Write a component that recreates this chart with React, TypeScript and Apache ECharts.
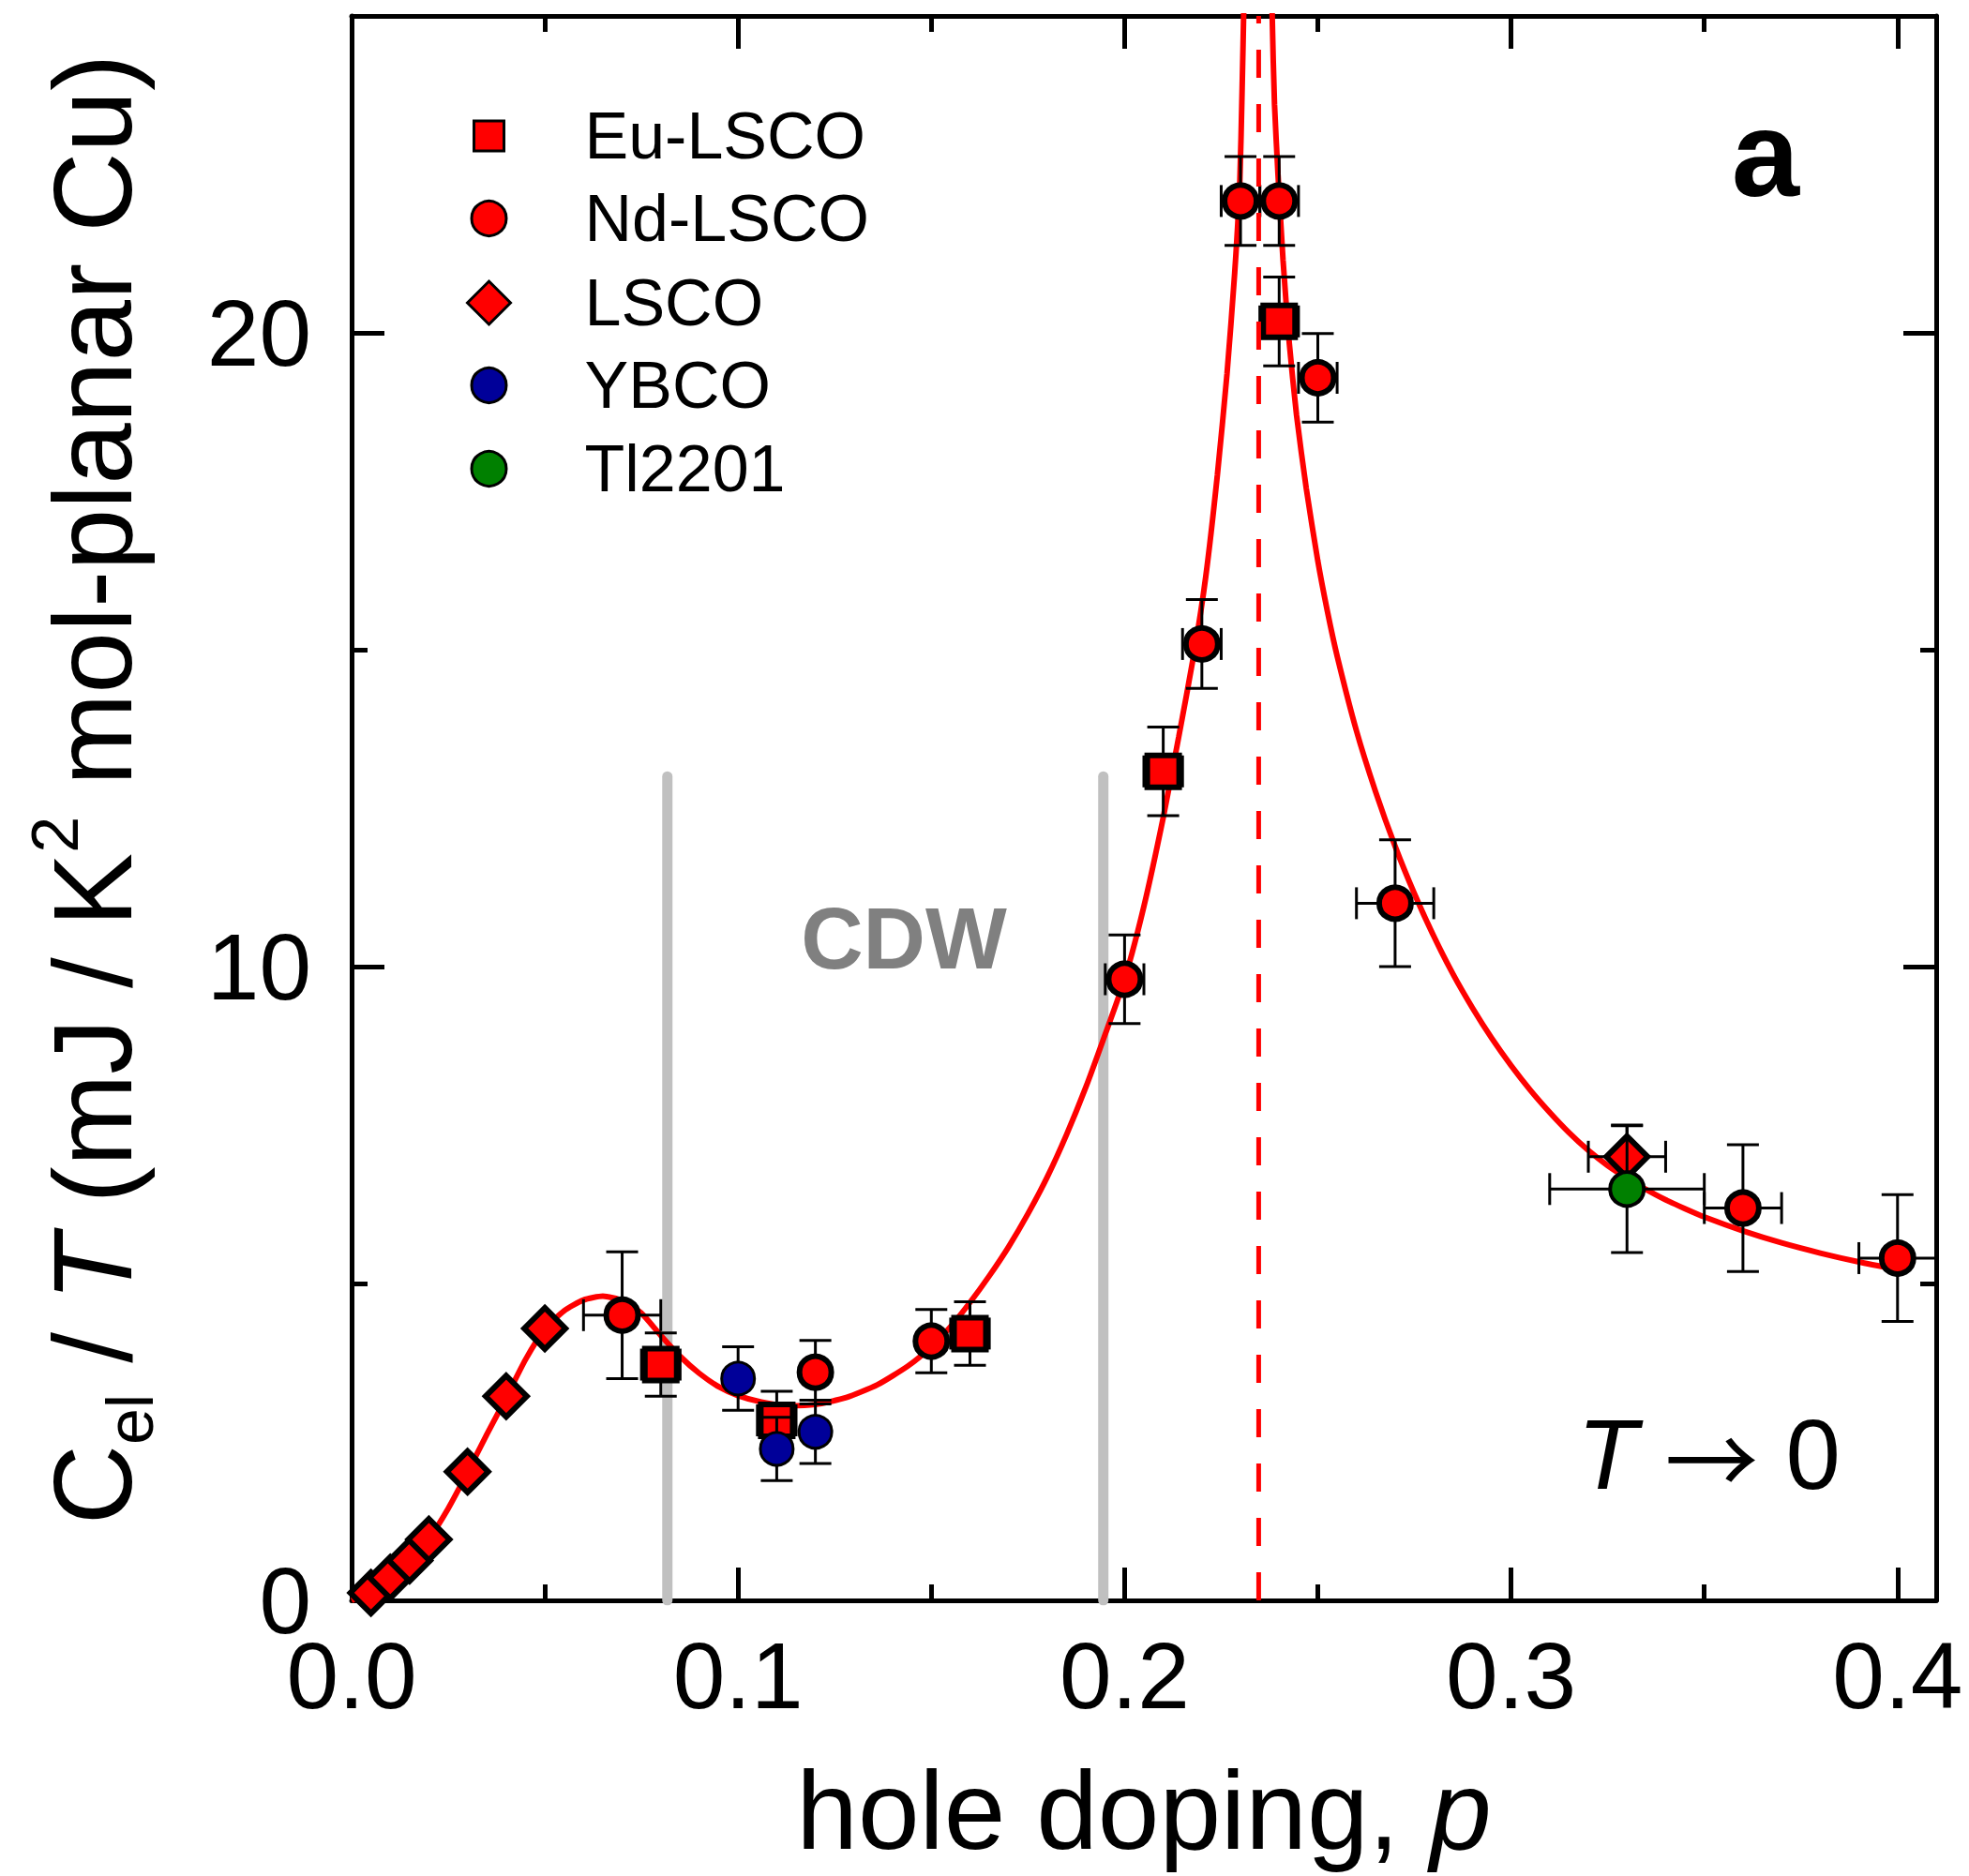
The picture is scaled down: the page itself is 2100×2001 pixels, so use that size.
import React, { useEffect, useRef } from 'react';
import * as echarts from 'echarts';

const FONT = '"Liberation Sans", Arial, Helvetica, sans-serif';

// ---- Data ----
// Eu-LSCO (squares)
const euX = [0.08, 0.11, 0.16, 0.21, 0.24];
const euY = [3.72, 2.84, 4.21, 13.08, 20.18];
const euXErr = [0.005, 0.005, 0.005, 0.005, 0.005];
const euYErr = [0.5, 0.46, 0.5, 0.7, 0.7];

// Nd-LSCO (circles)
const ndX = [0.07, 0.12, 0.15, 0.2, 0.22, 0.23, 0.24, 0.25, 0.27, 0.36, 0.4];
const ndY = [4.5, 3.6, 4.09, 9.8, 15.09, 22.08, 22.08, 19.29, 11.0, 6.19, 5.4];
const ndXErr = [0.01, 0, 0, 0.005, 0.005, 0.005, 0.005, 0.005, 0.01, 0.01, 0.01];
const ndYErr = [1.0, 0.5, 0.5, 0.7, 0.7, 0.7, 0.7, 0.7, 1.0, 1.0, 1.0];

// LSCO (diamonds)
const lscoX = [0.005, 0.01, 0.015, 0.02, 0.03, 0.04, 0.05, 0.33];
const lscoY = [0.12, 0.36, 0.63, 0.96, 2.03, 3.22, 4.29, 7.0];
const lscoXErr = [0, 0, 0, 0, 0, 0, 0, 0.01];
const lscoYErr = [0, 0, 0, 0, 0, 0, 0, 0.5];

// YBCO (blue circles)
const ybcoX = [0.1, 0.11, 0.12];
const ybcoY = [3.5, 2.39, 2.66];
const ybcoXErr = [0, 0, 0];
const ybcoYErr = [0.5, 0.5, 0.5];

// Tl2201 (green circle)
const tlX = [0.33];
const tlY = [6.49];
const tlXErr = [0.02];
const tlYErr = [1.0];

// Fit curve (it runs off the top on both sides of p*)
const curveX = [
  0, 0.005, 0.01, 0.015, 0.02, 0.025, 0.03, 0.035, 0.04, 0.045, 0.05, 0.055, 0.06, 0.065,
  0.07, 0.075, 0.08, 0.085, 0.09, 0.095, 0.1, 0.106, 0.113, 0.12, 0.128, 0.136, 0.144,
  0.15, 0.155, 0.16, 0.165, 0.17, 0.175, 0.18, 0.185, 0.19, 0.1945, 0.2, 0.205, 0.21,
  0.214, 0.218, 0.221, 0.224, 0.2265, 0.2285, 0.2298, 0.2304, 0.2309, 0.2313,
  0.2378, 0.2382, 0.2388, 0.2397, 0.241, 0.2426, 0.2445, 0.247, 0.25, 0.2525, 0.255,
  0.26, 0.265, 0.27, 0.275, 0.28, 0.285, 0.29, 0.295, 0.3, 0.305, 0.31, 0.315, 0.32,
  0.325, 0.33, 0.335, 0.34, 0.345, 0.35, 0.36, 0.37, 0.38, 0.39, 0.4,
];
const curveY = [
  0, 0.14, 0.36, 0.63, 0.97, 1.45, 2.02, 2.62, 3.2, 3.8, 4.28, 4.57, 4.74, 4.8,
  4.73, 4.53, 4.18, 3.85, 3.58, 3.37, 3.23, 3.13, 3.07, 3.09, 3.2, 3.4, 3.7,
  4.0, 4.32, 4.7, 5.12, 5.58, 6.1, 6.68, 7.35, 8.1, 8.85, 9.8, 10.95, 12.35,
  13.62, 14.95, 16.15, 17.75, 19.35, 20.95, 22.35, 23.8, 25.3, 27,
  27, 25.0, 23.6, 22.5, 21.15, 19.85, 18.7, 17.55, 16.4, 15.6, 14.9,
  13.72, 12.75, 11.9, 11.15, 10.48, 9.88, 9.35, 8.87, 8.44, 8.05, 7.7, 7.38, 7.1,
  6.86, 6.66, 6.48, 6.32, 6.18, 6.05, 5.83, 5.64, 5.48, 5.34, 5.22,
];

// Reference lines
const cdwBoundsX = [0.0817, 0.1945];
const cdwTopY = 13;
const criticalP = 0.2347;

// Axes
const xMin = 0;
const xMax = 0.41;
const xMajor = 0.1;
const xMinor = 0.05;
const yMin = 0;
const yMax = 25;
const yMajor = 10;
const yMinor = 5;

const legendNames = ['Eu-LSCO', 'Nd-LSCO', 'LSCO', 'YBCO', 'Tl2201'];

// ---- helpers ----
const zip = (xs: number[], ys: number[]) => xs.map((x, i) => [x, ys[i]]);
const zip4 = (xs: number[], ys: number[], ex: number[], ey: number[]) =>
  xs.map((x, i) => [x, ys[i], ex[i], ey[i]]);

const CAP = 17;
function renderErrorBars(params: any, api: any) {
  const x = api.value(0);
  const y = api.value(1);
  const ex = api.value(2);
  const ey = api.value(3);
  const style = { stroke: '#000', lineWidth: 3, fill: null };
  const children: any[] = [];
  if (ey > 0) {
    const t = api.coord([x, y + ey]);
    const b = api.coord([x, y - ey]);
    children.push({ type: 'line', shape: { x1: t[0], y1: t[1], x2: b[0], y2: b[1] }, style });
    children.push({ type: 'line', shape: { x1: t[0] - CAP, y1: t[1], x2: t[0] + CAP, y2: t[1] }, style });
    children.push({ type: 'line', shape: { x1: b[0] - CAP, y1: b[1], x2: b[0] + CAP, y2: b[1] }, style });
  }
  if (ex > 0) {
    const l = api.coord([x - ex, y]);
    const r = api.coord([x + ex, y]);
    children.push({ type: 'line', shape: { x1: l[0], y1: l[1], x2: r[0], y2: r[1] }, style });
    children.push({ type: 'line', shape: { x1: l[0], y1: l[1] - CAP, x2: l[0], y2: l[1] + CAP }, style });
    children.push({ type: 'line', shape: { x1: r[0], y1: r[1] - CAP, x2: r[0], y2: r[1] + CAP }, style });
  }
  return { type: 'group', children };
}

function errSeries(name: string, data: number[][], z: number) {
  return {
    type: 'custom',
    name: name + ' err',
    data,
    encode: { x: 0, y: 1 },
    renderItem: renderErrorBars,
    clip: true,
    silent: true,
    z,
  };
}

function axis(position: string, min: number, max: number, interval: number, tickLen: number, showLine: boolean, label?: any) {
  return {
    type: 'value',
    position,
    min,
    max,
    interval,
    splitLine: { show: false },
    axisLine: { show: showLine, onZero: false, lineStyle: { color: '#000', width: 5 } },
    axisTick: { show: true, inside: true, length: tickLen, lineStyle: { color: '#000', width: 5 } },
    axisLabel: label || { show: false },
    minorTick: { show: false },
    axisPointer: { show: false },
  };
}

function legendFor(name: string, iconSize: number, rowY: number) {
  return {
    data: [name],
    orient: 'vertical',
    left: 520 - iconSize / 2,
    top: rowY - 40,
    padding: 0,
    itemWidth: iconSize,
    itemHeight: iconSize,
    selectedMode: false,
    itemStyle: { borderWidth: 3, borderColor: '#000' },
    textStyle: {
      fontSize: 70,
      fontFamily: FONT,
      color: '#000',
      lineHeight: 80,
      padding: [0, 0, 0, 97 - iconSize / 2],
    },
  };
}

const option: any = {
  animation: false,
  backgroundColor: '#ffffff',
  textStyle: { fontFamily: FONT },
  grid: { left: 375, top: 17, width: 1690, height: 1690, containLabel: false, outerBoundsMode: 'none' },
  xAxis: [
    axis('bottom', xMin, xMax, xMajor, 35, true, {
      show: true,
      fontSize: 100,
      lineHeight: 76,
      color: '#000',
      fontFamily: FONT,
      margin: 42,
      formatter: (v: number) => (Math.abs(v * 10 - Math.round(v * 10)) < 1e-6 ? v.toFixed(1) : ''),
    }),
    axis('bottom', xMin, xMax, xMinor, 17, false),
    axis('top', xMin, xMax, xMajor, 35, true),
    axis('top', xMin, xMax, xMinor, 17, false),
  ],
  yAxis: [
    axis('left', yMin, yMax, yMajor, 35, true, {
      show: true,
      fontSize: 100,
      lineHeight: 76,
      color: '#000',
      fontFamily: FONT,
      margin: 43,
      formatter: (v: number) => (v % 10 === 0 ? String(v) : ''),
    }),
    axis('left', yMin, yMax, yMinor, 17, false),
    axis('right', yMin, yMax, yMajor, 35, true),
    axis('right', yMin, yMax, yMinor, 17, false),
  ],
  legend: [
    legendFor(legendNames[0], 32, 145),
    legendFor(legendNames[1], 37, 233),
    legendFor(legendNames[2], 46, 323),
    legendFor(legendNames[3], 37, 411),
    legendFor(legendNames[4], 37, 500),
  ],
  graphic: [
    {
      type: 'text',
      x: 1883,
      y: 164,
      silent: true,
      style: { text: 'a', fontSize: 130, fontWeight: 'bold', fontFamily: FONT, fill: '#000', align: 'center', verticalAlign: 'middle' },
    },
    {
      type: 'text',
      x: 964,
      y: 1001,
      silent: true,
      style: { text: 'CDW', fontSize: 92, fontWeight: 'bold', fontFamily: FONT, fill: '#808080', align: 'center', verticalAlign: 'middle' },
    },
    {
      type: 'text',
      x: 1963,
      y: 1551,
      silent: true,
      style: {
        text: '{i|T} {a|→} 0',
        fontSize: 105,
        fontFamily: FONT,
        fill: '#000',
        align: 'right',
        verticalAlign: 'middle',
        rich: {
          i: { fontSize: 105, fontFamily: FONT, fontStyle: 'italic', fill: '#000' },
          a: { fontSize: 100, fontFamily: '"Noto Sans CJK JP", "DejaVu Sans", sans-serif', fill: '#000' },
        },
      },
    },
    {
      type: 'text',
      x: 1220,
      y: 1931,
      silent: true,
      style: {
        text: '{n|hole doping, }{i|p}',
        fontSize: 118,
        fontFamily: FONT,
        fill: '#000',
        align: 'center',
        verticalAlign: 'middle',
        rich: {
          n: { fontSize: 118, fontFamily: FONT, lineHeight: 110, fill: '#000' },
          i: { fontSize: 118, fontFamily: FONT, fontStyle: 'italic', lineHeight: 110, fill: '#000' },
        },
      },
    },
    {
      type: 'text',
      x: 99,
      y: 842,
      rotation: Math.PI / 2,
      silent: true,
      style: {
        text: '{n|C}{sub|el}{n| / }{i|T}{n| (mJ / K}{sup|2}{n| mol-planar Cu)}',
        fontSize: 118,
        fontFamily: FONT,
        fill: '#000',
        align: 'center',
        verticalAlign: 'middle',
        rich: {
          n: { fontSize: 118, fontFamily: FONT, lineHeight: 150, fill: '#000' },
          i: { fontSize: 118, fontFamily: FONT, fontStyle: 'italic', lineHeight: 150, fill: '#000' },
          sub: { fontSize: 70, fontFamily: FONT, lineHeight: 33, verticalAlign: 'bottom', fill: '#000' },
          sup: { fontSize: 70, fontFamily: FONT, lineHeight: 71, verticalAlign: 'top', fill: '#000' },
        },
      },
    },
  ],
  series: [
    ...cdwBoundsX.map((x) => ({
      type: 'line',
      name: 'CDW boundary',
      data: [[x, 0], [x, cdwTopY]],
      symbol: 'none',
      silent: true,
      clip: true,
      lineStyle: { color: '#c0c0c0', width: 11, cap: 'round' },
      z: 1,
    })),
    {
      type: 'line',
      name: 'curve',
      data: zip(curveX, curveY),
      symbol: 'none',
      smooth: 0.2,
      silent: true,
      clip: true,
      lineStyle: { color: '#ff0000', width: 6 },
      z: 2,
    },
    errSeries('Eu-LSCO', zip4(euX, euY, euXErr, euYErr), 3),
    {
      type: 'scatter',
      name: 'Eu-LSCO',
      data: zip(euX, euY),
      symbol: 'rect',
      symbolSize: 34,
      itemStyle: { color: '#ff0000', borderColor: '#000', borderWidth: 6, opacity: 1 },
      z: 4,
    },
    errSeries('Nd-LSCO', zip4(ndX, ndY, ndXErr, ndYErr), 5),
    {
      type: 'scatter',
      name: 'Nd-LSCO',
      data: zip(ndX, ndY),
      symbol: 'circle',
      symbolSize: 34,
      itemStyle: { color: '#ff0000', borderColor: '#000', borderWidth: 6, opacity: 1 },
      z: 6,
    },
    errSeries('LSCO', zip4(lscoX, lscoY, lscoXErr, lscoYErr), 7),
    {
      type: 'scatter',
      name: 'LSCO',
      data: zip(lscoX, lscoY),
      symbol: 'diamond',
      symbolSize: 44,
      itemStyle: { color: '#ff0000', borderColor: '#000', borderWidth: 6, opacity: 1 },
      z: 8,
    },
    errSeries('YBCO', zip4(ybcoX, ybcoY, ybcoXErr, ybcoYErr), 9),
    {
      type: 'scatter',
      name: 'YBCO',
      data: zip(ybcoX, ybcoY),
      symbol: 'circle',
      symbolSize: 35,
      itemStyle: { color: '#000099', borderColor: '#000', borderWidth: 3, opacity: 1 },
      z: 10,
    },
    errSeries('Tl2201', zip4(tlX, tlY, tlXErr, tlYErr), 11),
    {
      type: 'scatter',
      name: 'Tl2201',
      data: zip(tlX, tlY),
      symbol: 'circle',
      symbolSize: 36,
      itemStyle: { color: '#008000', borderColor: '#000', borderWidth: 4, opacity: 1 },
      z: 12,
    },
    {
      type: 'line',
      name: 'p*',
      data: [[criticalP, yMin], [criticalP, yMax]],
      symbol: 'none',
      silent: true,
      clip: true,
      lineStyle: { color: '#ff0000', width: 5, type: [30, 28] },
      z: 11,
    },
  ],
};

export default function App() {
  const ref = useRef<HTMLDivElement>(null);
  useEffect(() => {
    if (!ref.current) return;
    const chart = echarts.init(ref.current, null, { renderer: 'svg' });
    chart.setOption(option);
    return () => {
      chart.dispose();
    };
  }, []);
  return (
    <div
      ref={ref}
      style={{ position: 'absolute', left: 0, top: 0, width: 2100, height: 2001, background: '#fff' }}
    />
  );
}
